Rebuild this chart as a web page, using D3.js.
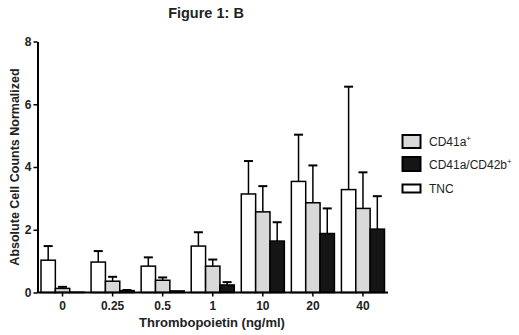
<!DOCTYPE html>
<html>
<head>
<meta charset="utf-8">
<script src="https://cdn.jsdelivr.net/npm/d3@7"></script>
<style>
  body { margin: 0; background: #fff; }
  text { font-family: "Liberation Sans", Arial, sans-serif; }
</style>
</head>
<body>
<div id="chart"></div>
<script>
// data
const doses = ['0', '0.25', '0.5', '1', '10', '20', '40']
const seriesNames = ['TNC', 'CD41a+', 'CD41a/CD42b+']
const tncMean = [1.03, 0.97, 0.84, 1.48, 3.14, 3.54, 3.28]
const tncErr = [0.45, 0.35, 0.28, 0.44, 1.05, 1.49, 3.28]
const cd41Mean = [0.13, 0.36, 0.39, 0.84, 2.57, 2.86, 2.68]
const cd41Err = [0.05, 0.14, 0.09, 0.21, 0.82, 1.19, 1.15]
const cd42Mean = [0.01, 0.06, 0.05, 0.24, 1.64, 1.88, 2.02]
const cd42Err = [0, 0.02, 0, 0.09, 0.6, 0.8, 1.05]
const yTicks = [0, 2, 4, 6, 8]

const width = 519,
      height = 335,
      margin = { top: 41.5, right: 131, bottom: 42.5, left: 37.5 }
const fills = { 'TNC': '#ffffff', 'CD41a+': '#d9d9d9', 'CD41a/CD42b+': '#151515' }

const series = [
  { name: 'TNC', mean: tncMean, err: tncErr },
  { name: 'CD41a+', mean: cd41Mean, err: cd41Err },
  { name: 'CD41a/CD42b+', mean: cd42Mean, err: cd42Err }
]

const svg = d3.select('#chart').append('svg')
  .attr('width', width)
  .attr('height', height)

const x0 = d3.scaleBand()
  .domain(doses)
  .range([margin.left, width - margin.right])
  .paddingInner(0.14)
  .paddingOuter(0.07)

const x1 = d3.scaleBand()
  .domain(seriesNames)
  .range([0, x0.bandwidth()])

const y = d3.scaleLinear()
  .domain([0, 8])
  .range([height - margin.bottom, margin.top])

// title
svg.append('text')
  .attr('x', 206)
  .attr('y', 18)
  .attr('text-anchor', 'middle')
  .style('font-size', '14.5px')
  .style('font-weight', 'bold')
  .attr('fill', '#222')
  .text('Figure 1: B')

// bars + error bars
const groups = svg.append('g').selectAll('g')
  .data(series).enter()
  .append('g')

groups.selectAll('rect')
  .data(s => s.mean.map((v, i) => ({ name: s.name, dose: doses[i], v, e: s.err[i] })))
  .enter().append('rect')
  .attr('x', d => x0(d.dose) + x1(d.name))
  .attr('y', d => y(d.v))
  .attr('width', x1.bandwidth())
  .attr('height', d => y(0) - y(d.v))
  .attr('fill', d => fills[d.name])
  .attr('stroke', '#000')
  .attr('stroke-width', 1.5)

const errs = groups.selectAll('g.err')
  .data(s => s.mean.map((v, i) => ({ name: s.name, dose: doses[i], v, e: s.err[i] })))
  .enter().append('g')
  .attr('class', 'err')

errs.filter(d => d.e > 0).append('line')
  .attr('x1', d => x0(d.dose) + x1(d.name) + x1.bandwidth() / 2)
  .attr('x2', d => x0(d.dose) + x1(d.name) + x1.bandwidth() / 2)
  .attr('y1', d => y(d.v))
  .attr('y2', d => y(d.v + d.e))
  .attr('stroke', '#000')
  .attr('stroke-width', 1.5)

errs.filter(d => d.e > 0).append('line')
  .attr('x1', d => x0(d.dose) + x1(d.name) + x1.bandwidth() / 2 - 4.5)
  .attr('x2', d => x0(d.dose) + x1(d.name) + x1.bandwidth() / 2 + 4.5)
  .attr('y1', d => y(d.v + d.e))
  .attr('y2', d => y(d.v + d.e))
  .attr('stroke', '#000')
  .attr('stroke-width', 2)

// axes
const xAxis = d3.axisBottom(x0).tickSizeOuter(0).tickSizeInner(4).tickPadding(5)
const yAxis = d3.axisLeft(y).tickValues(yTicks).tickSizeOuter(0).tickSizeInner(4).tickPadding(2)

const gx = svg.append('g')
  .attr('transform', `translate(0, ${y(0)})`)
  .call(xAxis)
gx.select('.domain').attr('stroke-width', 2)
  .attr('d', `M${margin.left},0H${width - margin.right}`)
gx.selectAll('.tick line').attr('stroke-width', 1.5)
gx.selectAll('text').style('font-size', '12px').style('font-weight', 'bold').attr('fill', '#222')

const gy = svg.append('g')
  .attr('transform', `translate(${margin.left}, 0)`)
  .call(yAxis)
gy.select('.domain').attr('stroke-width', 2)
gy.selectAll('.tick line').attr('stroke-width', 1.5)
gy.selectAll('text').style('font-size', '12px').style('font-weight', 'bold').attr('fill', '#222')

// axis titles
svg.append('text')
  .attr('transform', `translate(19, 167) rotate(-90)`)
  .attr('text-anchor', 'middle')
  .style('font-size', '12.5px')
  .style('font-weight', 'bold')
  .attr('fill', '#222')
  .text('Absolute Cell Counts Normalized')

svg.append('text')
  .attr('x', 212)
  .attr('y', 327)
  .attr('text-anchor', 'middle')
  .style('font-size', '13px')
  .style('font-weight', 'bold')
  .attr('fill', '#222')
  .text('Thrombopoietin (ng/ml)')

// legend
const legendItems = [
  { name: 'CD41a+', label: 'CD41a', sup: '+', y: 135, h: 13 },
  { name: 'CD41a/CD42b+', label: 'CD41a/CD42b', sup: '+', y: 157, h: 14 },
  { name: 'TNC', label: 'TNC', sup: '', y: 184.5, h: 8 }
]
const legend = svg.append('g')
  .selectAll('g')
  .data(legendItems).enter()
  .append('g')

legend.append('rect')
  .attr('x', 402.5)
  .attr('y', d => d.y)
  .attr('width', 18)
  .attr('height', d => d.h)
  .attr('fill', d => fills[d.name])
  .attr('stroke', '#000')
  .attr('stroke-width', 2)

const lt = legend.append('text')
  .attr('x', 429)
  .attr('y', d => d.y + d.h / 2 + 4.5)
  .style('font-size', '12px')
  .attr('fill', '#222')
lt.append('tspan').text(d => d.label)
lt.append('tspan')
  .attr('dy', -5)
  .style('font-size', '8px')
  .text(d => d.sup)
</script>
</body>
</html>
